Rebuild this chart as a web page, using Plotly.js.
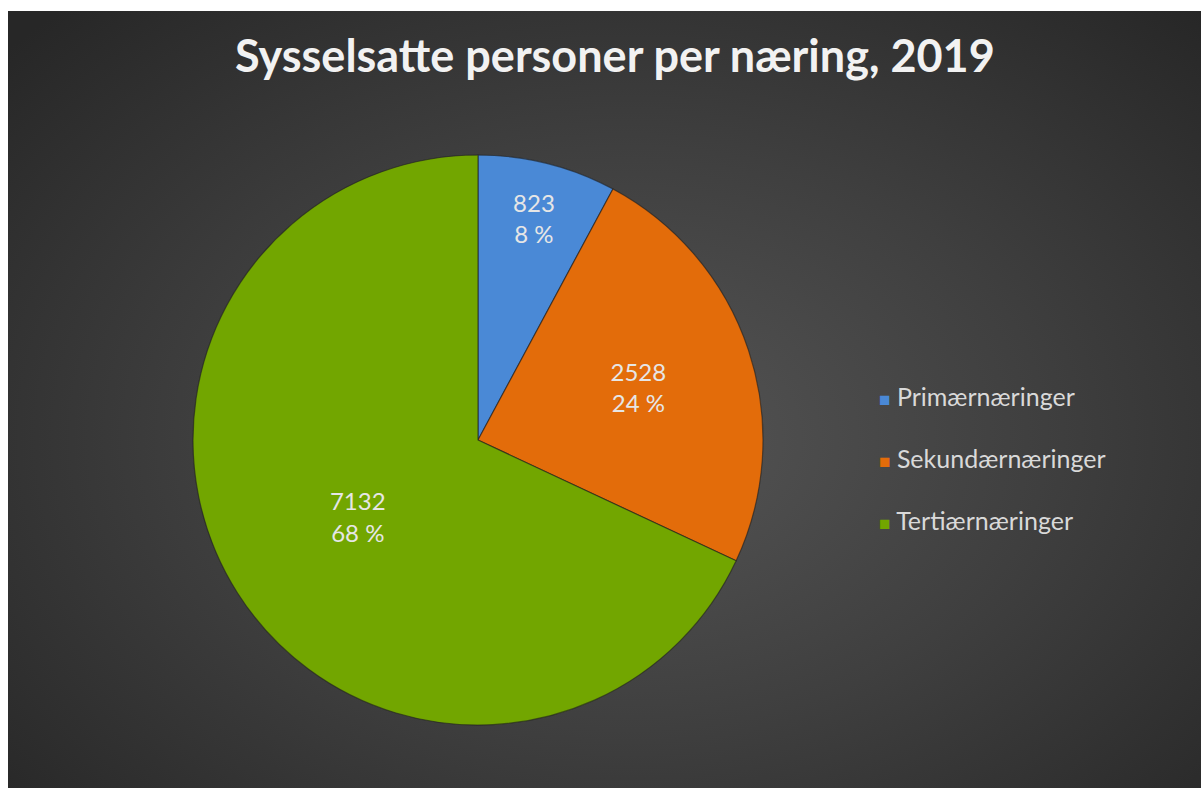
<!DOCTYPE html>
<html>
<head>
<meta charset="utf-8">
<script src="https://cdn.plot.ly/plotly-3.0.1.min.js"></script>
<style>
  html, body { margin:0; padding:0; background:#ffffff; }
  #wrap { position:relative; width:1201px; height:788px; background:#ffffff; }
  #bg { position:absolute; left:8px; top:11px; right:0; bottom:0;
        background: radial-gradient(ellipse 70% 75% at 52% 55%, #555555 0%, #3f3f3f 50%, #272727 100%); }
  #chart { position:absolute; left:0; top:0; width:1201px; height:788px; }
</style>
</head>
<body>
<div id="wrap"><div id="bg"></div><div id="chart"></div></div>
<script>
const categories = ["Primærnæringer", "Sekundærnæringer", "Tertiærnæringer"];
const values = [823, 2528, 7132];
const colors = ["#4a89d6", "#e36c0a", "#72a600"];
const title = "Sysselsatte personer per næring, 2019";

const total = values.reduce((a, b) => a + b, 0);
const labelsText = values.map(v => v + "<br>" + Math.round(v / total * 100) + " %");

const FONT = "Lato, 'Open Sans', sans-serif";

const trace = {
  type: "pie",
  labels: categories,
  values: values,
  text: labelsText,
  textinfo: "text",
  textposition: "inside",
  insidetextorientation: "horizontal",
  sort: false,
  direction: "clockwise",
  rotation: 0,
  showlegend: false,
  marker: { colors: colors, line: { color: "rgba(30,30,30,0.6)", width: 1.2 } },
  insidetextfont: { family: FONT, size: 24, color: "#e6e6e6" },
  domain: { x: [0.1607, 0.6353], y: [0.0799, 0.8033] },
  hoverinfo: "label+value+percent"
};

// custom legend (built from categories / colors) to reproduce the wide item spacing
const legendTop = 0.4975;   // paper y of first item centre
const legendStep = 0.0785;  // paper y step between items
const legendAnn = categories.map((c, i) => ({
  xref: "paper", yref: "paper",
  x: 0.7305, y: legendTop - i * legendStep,
  xanchor: "left", yanchor: "middle",
  showarrow: false,
  text: '<span style="color:' + colors[i] + ';font-size:19px">■</span> ' + c,
  font: { family: FONT, size: 25, color: "#d9d9d9" }
}));

const layout = {
  width: 1201, height: 788,
  margin: { l: 0, r: 0, t: 0, b: 0 },
  paper_bgcolor: "rgba(0,0,0,0)",
  plot_bgcolor: "rgba(0,0,0,0)",
  title: {
    text: "<b>" + title + "</b>",
    font: { family: FONT, size: 45, color: "#f2f2f2" },
    x: 0.512, xanchor: "center", y: 0.928, yanchor: "middle"
  },
  showlegend: false,
  annotations: legendAnn
};

Plotly.newPlot("chart", [trace], layout, { displayModeBar: false, staticPlot: true });
</script>
</body>
</html>
